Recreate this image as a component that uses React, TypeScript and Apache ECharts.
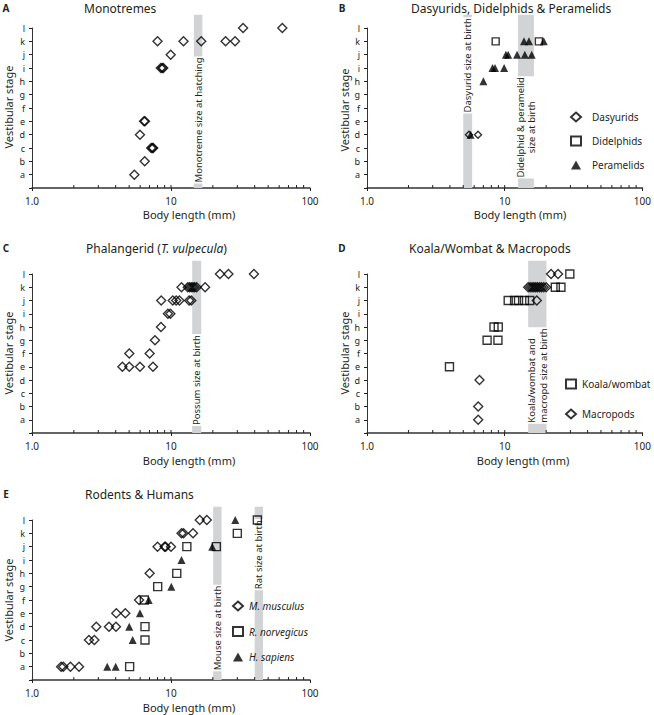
import React, { useEffect, useRef } from "react";
import * as echarts from "echarts";

const FONT = "Noto Sans";
const INK = "#231f20";
const BAND = "#d1d3d4";

const stages = ["a", "b", "c", "d", "e", "f", "g", "h", "i", "j", "k", "l"];
const xTickLabels: Record<number, string> = { 1: "1.0", 10: "10", 100: "100" };
const minorTicks = [2, 3, 4, 5, 6, 7, 8, 9, 10, 20, 30, 40, 50, 60, 70, 80, 90];

// Panel A
const monotremes: [number, string][] = [
  [5.45, "a"], [6.47, "b"], [7.2, "c"], [7.35, "c"], [7.45, "c"], [5.98, "d"],
  [6.4, "e"], [6.5, "e"], [8.45, "i"], [8.65, "i"], [8.8, "i"], [9.95, "j"],
  [8.0, "k"], [12.3, "k"], [16.5, "k"], [24.7, "k"], [28.9, "k"], [33.0, "l"], [63.2, "l"],
];
// Panel B
const dasyurids: [number, string][] = [[5.5, "d"], [6.4, "d"]];
const didelphids: [number, string][] = [[8.6, "k"], [17.7, "k"]];
const peramelids: [number, string][] = [
  [5.65, "d"], [7.0, "h"], [8.15, "i"], [8.5, "i"], [9.9, "i"], [10.2, "j"], [10.6, "j"],
  [12.3, "j"], [14.0, "j"], [15.7, "j"], [13.8, "k"], [15.0, "k"], [19.2, "k"],
];
// Panel C
const phalangerid: [number, string][] = [
  [22.5, "l"], [25.9, "l"], [39.5, "l"],
  [11.9, "k"], [13.2, "k"], [13.6, "k"], [14.0, "k"], [14.4, "k"], [14.8, "k"], [15.3, "k"], [17.6, "k"],
  [8.5, "j"], [10.3, "j"], [10.9, "j"], [11.5, "j"], [13.5, "j"], [14.0, "j"],
  [9.5, "i"], [9.9, "i"], [8.47, "h"], [7.67, "g"], [5.01, "f"], [7.02, "f"],
  [4.47, "e"], [5.01, "e"], [5.98, "e"], [7.42, "e"],
];
// Panel D
const koalaWombat: [number, string][] = [
  [29.7, "l"], [23.3, "k"], [25.6, "k"], [10.6, "j"], [11.8, "j"], [12.6, "j"], [13.9, "j"], [15.2, "j"],
  [8.36, "h"], [8.98, "h"], [7.45, "g"], [8.93, "g"], [3.97, "e"],
];
const macropods: [number, string][] = [
  [21.7, "l"], [24.4, "l"], [14.8, "k"], [15.3, "k"], [15.8, "k"], [16.3, "k"], [16.8, "k"], [17.3, "k"],
  [17.9, "k"], [18.5, "k"], [19.2, "k"], [20.0, "k"], [17.1, "j"], [6.56, "d"], [6.42, "b"], [6.42, "a"],
];
// Panel E
const musculus: [number, string][] = [
  [16.1, "l"], [18.1, "l"], [11.9, "k"], [12.3, "k"], [14.4, "k"], [8.0, "j"], [9.0, "j"], [9.15, "j"],
  [10.0, "j"], [7.02, "h"], [5.89, "f"], [4.04, "e"], [4.69, "e"], [2.9, "d"], [3.58, "d"], [4.02, "d"],
  [2.57, "c"], [2.81, "c"], [1.62, "a"], [1.68, "a"], [1.89, "a"], [2.18, "a"],
];
const norvegicus: [number, string][] = [
  [41.8, "l"], [30.0, "k"], [13.0, "j"], [21.2, "j"], [11.0, "h"], [8.02, "g"], [6.43, "f"],
  [6.5, "d"], [6.5, "c"], [5.04, "a"],
];
const sapiens: [number, string][] = [
  [29.0, "l"], [19.8, "j"], [11.9, "i"], [10.05, "g"], [6.91, "f"], [5.98, "e"], [5.01, "d"],
  [5.3, "c"], [3.48, "a"], [4.0, "a"],
];

type Band = { from: number; to: number; text: string; at: number; align: string };
const bandsA: Band[] = [{ from: 14.6, to: 16.8, text: "Monotreme size at hatching", at: 5.1, align: "center" }];
const bandsB: Band[] = [
  { from: 5.0, to: 5.8, text: "Dasyurid size at birth", at: 9.2, align: "center" },
  { from: 12.5, to: 16.3, text: "Didelphid & peramelid\nsize at birth", at: 4.55, align: "center" },
];
const bandsC: Band[] = [{ from: 14.2, to: 16.5, text: "Possum size at birth", at: 4.0, align: "center" }];
const bandsD: Band[] = [{ from: 14.8, to: 20.1, text: "Koala/wombat and\nmacropd size at birth", at: 0.7, align: "left" }];
const bandsE: Band[] = [
  { from: 20.1, to: 23.1, text: "Mouse size at birth", at: 3.9, align: "center" },
  { from: 40, to: 45.9, text: "Rat size at birth", at: 9.4, align: "center" },
];
const BAND_TOP = 13;

const grids = [
  { left: 32, top: 28, width: 278, height: 160 },
  { left: 367, top: 28, width: 277, height: 160 },
  { left: 32, top: 274, width: 278, height: 159 },
  { left: 367, top: 274, width: 278, height: 159 },
  { left: 32, top: 520, width: 278, height: 160 },
];

const toPoints = (arr: [number, string][]) => arr.map(([x, s]) => [x, stages.indexOf(s) + 1]);

const hollow = { color: "rgba(255,255,255,0)", borderColor: "#000", borderWidth: 1.4 };
const solid = { color: "#000" };

function scatter(gi: number, name: string, data: [number, string][], symbol: string, size: number, style: any) {
  return {
    type: "scatter", name, xAxisIndex: gi, yAxisIndex: gi, z: 3, symbol, symbolSize: size,
    itemStyle: style, data: toPoints(data), silent: true,
  };
}

function bandSeries(gi: number, bands: Band[]) {
  return {
    type: "custom", xAxisIndex: gi, yAxisIndex: gi, z: 1, silent: true, clip: false,
    data: bands.map((b) => [b.from, b.to, b.at]),
    encode: { x: [0, 1], y: 2 },
    renderItem: (params: any, api: any) => {
      const b = bands[params.dataIndex];
      const p0 = api.coord([b.from, 0]);
      const p1 = api.coord([b.to, BAND_TOP]);
      const cx = (p0[0] + p1[0]) / 2;
      const cy = api.coord([b.from, b.at])[1];
      return {
        type: "group",
        children: [
          { type: "rect", shape: { x: p0[0], y: p1[1], width: p1[0] - p0[0], height: p0[1] - p1[1] }, style: { fill: BAND } },
          {
            type: "text", x: cx, y: cy, rotation: Math.PI / 2,
            style: {
              text: b.text, fontSize: 9.5, fontFamily: FONT, fill: INK, align: b.align, verticalAlign: "middle",
              backgroundColor: "#fff", padding: [0, 1], lineHeight: 11.5,
            },
          },
        ],
      };
    },
  };
}

function tickSeries(gi: number) {
  return {
    type: "custom", xAxisIndex: gi, yAxisIndex: gi, z: 4, silent: true, clip: false,
    data: minorTicks.map((v) => [v, 0]),
    renderItem: (params: any, api: any) => {
      const p = api.coord([api.value(0), 0]);
      return { type: "line", shape: { x1: p[0], y1: p[1], x2: p[0], y2: p[1] - 3 }, style: { stroke: INK, lineWidth: 1 } };
    },
  };
}

function txt(x: number, y: number, text: string, size: number, extra: any = {}, rotation = 0) {
  return {
    type: "text", x, y, rotation, silent: true,
    style: { text, fontSize: size, fontFamily: FONT, fill: INK, align: "center", verticalAlign: "middle", ...extra },
  };
}

export default function App() {
  const ref = useRef<HTMLDivElement>(null);
  useEffect(() => {
    if (!ref.current) return;
    const chart = echarts.init(ref.current, undefined, { renderer: "svg" });
    const xAxes = grids.map((_, i) => ({
      type: "log", logBase: 10, min: 1, max: 100, gridIndex: i,
      axisLine: { lineStyle: { color: "#333", width: 1.5 } },
      axisTick: { show: true, length: 3, lineStyle: { color: INK } },
      axisLabel: {
        fontSize: 10, color: INK, fontFamily: FONT, margin: 8,
        formatter: (v: number) => xTickLabels[Math.round(v)] ?? "",
      },
      splitLine: { show: false },
    }));
    const yAxes = grids.map((_, i) => ({
      type: "value", min: 0, max: 12, interval: 1, gridIndex: i,
      axisLine: { show: true, lineStyle: { color: "#333", width: 1 } },
      axisTick: { show: true, length: 3, lineStyle: { color: INK } },
      axisLabel: {
        fontSize: 9, color: INK, fontFamily: FONT, margin: 7,
        formatter: (v: number) => (Math.round(v) >= 1 ? stages[Math.round(v) - 1] : ""),
      },
      splitLine: { show: false },
    }));

    const series: any[] = [
      bandSeries(0, bandsA), bandSeries(1, bandsB), bandSeries(2, bandsC), bandSeries(3, bandsD), bandSeries(4, bandsE),
      tickSeries(0), tickSeries(1), tickSeries(2), tickSeries(3), tickSeries(4),
      scatter(0, "Monotremes", monotremes, "diamond", 9, hollow),
      scatter(1, "Dasyurids", dasyurids, "diamond", 7, hollow),
      scatter(1, "Didelphids", didelphids, "rect", 7, hollow),
      scatter(1, "Peramelids", peramelids, "triangle", 8, solid),
      scatter(2, "Phalangerid", phalangerid, "diamond", 9, hollow),
      scatter(3, "Koala/wombat", koalaWombat, "rect", 8, hollow),
      scatter(3, "Macropods", macropods, "diamond", 9, hollow),
      scatter(4, "M. musculus", musculus, "diamond", 9, hollow),
      scatter(4, "R. norvegicus", norvegicus, "rect", 8, hollow),
      scatter(4, "H. sapiens", sapiens, "triangle", 8, solid),
    ];

    const legendText = (pad: number, italic = false) => ({
      fontSize: 10, fontFamily: FONT, color: INK, lineHeight: 14, padding: [0, 0, 0, pad],
      fontStyle: italic ? "italic" : "normal",
    });
    const legendBase = { orient: "vertical", selectedMode: false, itemWidth: 10, itemHeight: 9, padding: 0 };

    const graphic: any[] = [
      txt(6, 8, "A", 10, { fontWeight: "bold" }),
      txt(342, 8, "B", 10, { fontWeight: "bold" }),
      txt(6, 248, "C", 10, { fontWeight: "bold" }),
      txt(342, 248, "D", 10, { fontWeight: "bold" }),
      txt(6, 494, "E", 10, { fontWeight: "bold" }),
      txt(84, 8, "Monotremes", 12, { align: "left" }),
      txt(411, 8, "Dasyurids, Didelphids & Peramelids", 12, { align: "left" }),
      txt(86, 248, "Phalangerid ({i|T. vulpecula})", 12, {
        align: "left", rich: { i: { fontStyle: "italic", fontSize: 12, fontFamily: FONT, fill: INK } },
      }),
      txt(409, 248, "Koala/Wombat & Macropods", 12, { align: "left" }),
      txt(85, 494, "Rodents & Humans", 12, { align: "left" }),
      txt(8, 107, "Vestibular stage", 11, {}, Math.PI / 2),
      txt(344, 110, "Vestibular stage", 11, {}, Math.PI / 2),
      txt(8, 353, "Vestibular stage", 11, {}, Math.PI / 2),
      txt(344, 353, "Vestibular stage", 11, {}, Math.PI / 2),
      txt(8, 600, "Vestibular stage", 11, {}, Math.PI / 2),
      txt(189, 214.5, "Body length (mm)", 11),
      txt(520, 214.5, "Body length (mm)", 11),
      txt(189, 460.5, "Body length (mm)", 11),
      txt(523, 460.5, "Body length (mm)", 11),
      txt(189, 707, "Body length (mm)", 11),
    ];

    chart.setOption({
      animation: false,
      textStyle: { fontFamily: FONT },
      grid: grids,
      xAxis: xAxes,
      yAxis: yAxes,
      legend: [
        { ...legendBase, left: 570, top: 110, itemGap: 10, textStyle: legendText(6), data: ["Dasyurids", "Didelphids", "Peramelids"] },
        { ...legendBase, left: 565, top: 377, itemGap: 16, textStyle: legendText(1), data: ["Koala/wombat", "Macropods"] },
        {
          ...legendBase, left: 232, top: 599, itemGap: 11.5, textStyle: legendText(1, true),
          data: ["M. musculus", "R. norvegicus", "H. sapiens"],
        },
      ],
      series,
      graphic,
    });
    return () => chart.dispose();
  }, []);
  return <div ref={ref} style={{ position: "absolute", left: 0, top: 0, width: 654, height: 715, background: "#fff" }} />;
}
